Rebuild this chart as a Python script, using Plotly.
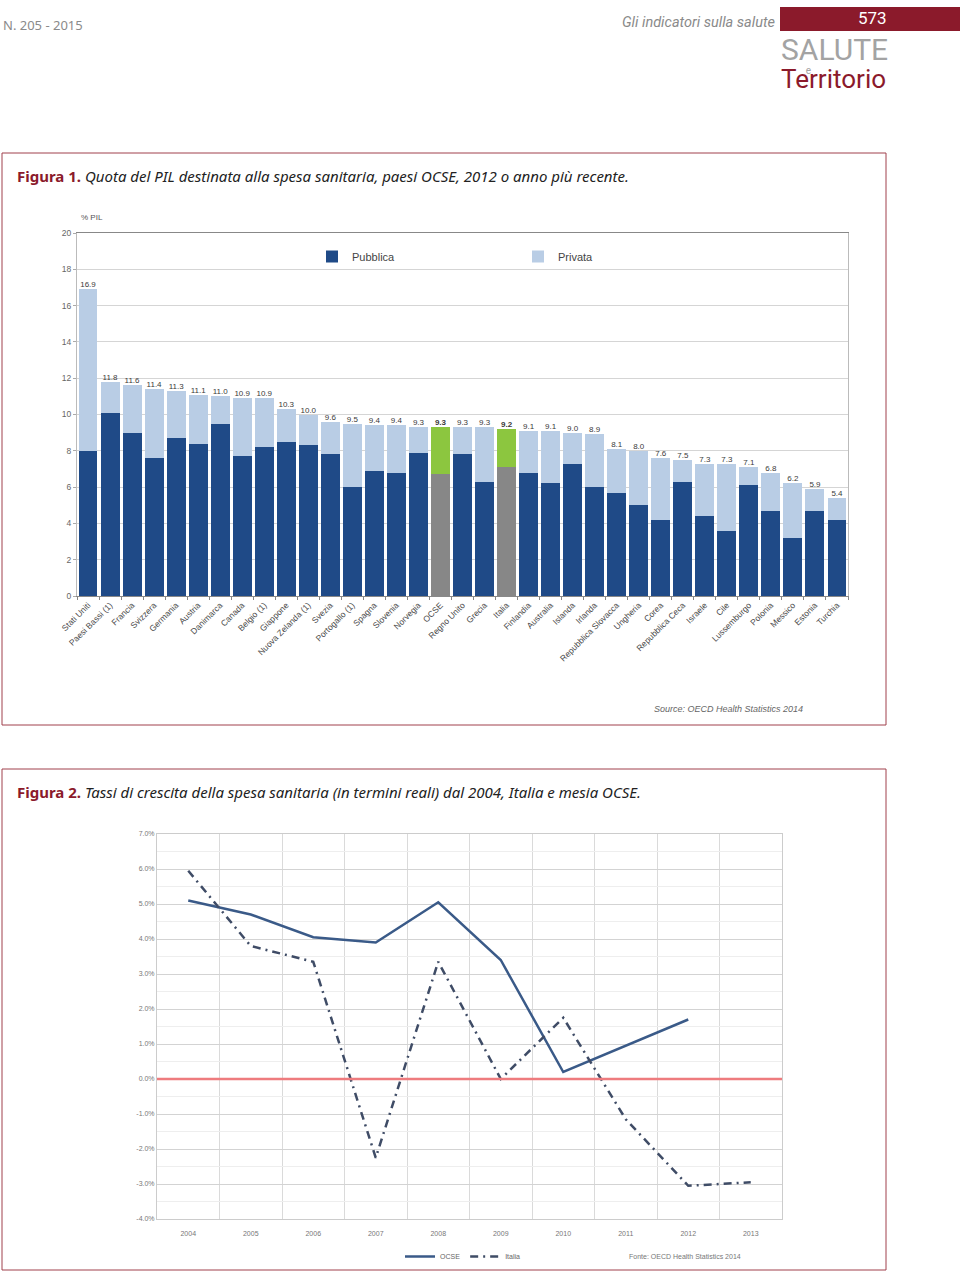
import plotly.graph_objects as go

# ---------------- data: Figure 1 ----------------
countries = ["Stati Uniti", "Paesi Bassi (1)", "Francia", "Svizzera", "Germania", "Austria",
             "Danimarca", "Canada", "Belgio (1)", "Giappone", "Nuova Zelanda (1)", "Svezia",
             "Portogallo (1)", "Spagna", "Slovenia", "Norvegia", "OCSE", "Regno Unito", "Grecia",
             "Italia", "Finlandia", "Australia", "Islanda", "Irlanda", "Repubblica Slovacca",
             "Ungheria", "Corea", "Repubblica Ceca", "Israele", "Cile", "Lussemburgo", "Polonia",
             "Messico", "Estonia", "Turchia"]
public = [8.0, 10.1, 9.0, 7.6, 8.7, 8.4, 9.5, 7.7, 8.2, 8.5, 8.3, 7.8, 6.0, 6.9, 6.8, 7.9,
          6.7, 7.8, 6.3, 7.1, 6.8, 6.2, 7.3, 6.0, 5.7, 5.0, 4.2, 6.3, 4.4, 3.6, 6.1, 4.7,
          3.2, 4.7, 4.2]
private = [8.9, 1.7, 2.6, 3.8, 2.6, 2.7, 1.5, 3.2, 2.7, 1.8, 1.7, 1.8, 3.5, 2.5, 2.6, 1.4,
           2.6, 1.5, 3.0, 2.1, 2.3, 2.9, 1.7, 2.9, 2.4, 3.0, 3.4, 1.2, 2.9, 3.7, 1.0, 2.1,
           3.0, 1.2, 1.2]
total = [16.9, 11.8, 11.6, 11.4, 11.3, 11.1, 11.0, 10.9, 10.9, 10.3, 10.0, 9.6, 9.5, 9.4,
         9.4, 9.3, 9.3, 9.3, 9.3, 9.2, 9.1, 9.1, 9.0, 8.9, 8.1, 8.0, 7.6, 7.5, 7.3, 7.3,
         7.1, 6.8, 6.2, 5.9, 5.4]
highlight = ["OCSE", "Italia"]
bar_ticks = [0, 2, 4, 6, 8, 10, 12, 14, 16, 18, 20]

# ---------------- data: Figure 2 ----------------
years = [2004, 2005, 2006, 2007, 2008, 2009, 2010, 2011, 2012, 2013]
ocse = [5.1, 4.7, 4.05, 3.9, 5.05, 3.4, 0.2, 0.95, 1.7, None]
italia = [5.95, 3.8, 3.35, -2.25, 3.35, 0.0, 1.75, -1.15, -3.05, -2.95]
line_ticks = [-4, -3, -2, -1, 0, 1, 2, 3, 4, 5, 6, 7]

W, H = 960, 1274
def X(px): return px / W
def Y(py): return 1 - py / H

DARK = "#1F4A87"
LIGHT = "#B9CDE5"
GRAY = "#878787"
GREEN = "#8CC63F"
RED = "#8B1A2B"

pub_colors = [GRAY if c in highlight else DARK for c in countries]
pri_colors = [GREEN if c in highlight else LIGHT for c in countries]
labels = [("<b>%.1f</b>" % v) if c in highlight else ("%.1f" % v) for c, v in zip(countries, total)]

fig = go.Figure()
fig.add_trace(go.Bar(x=countries, y=public, name="Pubblica", marker=dict(color=pub_colors, line=dict(width=0)),
                     xaxis="x", yaxis="y", legend="legend", hoverinfo="skip"))
fig.add_trace(go.Bar(x=countries, y=private, name="Privata", marker=dict(color=pri_colors, line=dict(width=0)),
                     xaxis="x", yaxis="y", legend="legend", hoverinfo="skip"))
fig.add_trace(go.Scatter(x=countries, y=total, mode="text", text=labels, textposition="top center",
                         textfont=dict(size=8, color="#3a3a3a", family="Liberation Sans"),
                         showlegend=False, xaxis="x", yaxis="y", hoverinfo="skip", cliponaxis=False))

fig.add_trace(go.Scatter(x=years, y=ocse, name="OCSE", mode="lines",
                         line=dict(color="#3A5A88", width=2.5), xaxis="x2", yaxis="y2", legend="legend2"))
fig.add_trace(go.Scatter(x=years, y=italia, name="Italia", mode="lines",
                         line=dict(color="#3F4C66", width=2.5, dash="8px,5px,2px,5px"),
                         xaxis="x2", yaxis="y2", legend="legend2"))

fig.update_layout(
    width=W, height=H, margin=dict(l=0, r=0, t=0, b=0, autoexpand=False),
    paper_bgcolor="white", plot_bgcolor="white",
    barmode="stack", bargap=0.14,
    font=dict(family="Liberation Sans", color="#555"),
    xaxis=dict(domain=[X(77), X(848)], anchor="y", type="category", range=[-0.5, len(countries) - 0.5],
               tickangle=-45, tickfont=dict(size=8.5, color="#4a4a4a"), automargin=False,
               ticks="outside", tickson="boundaries", ticklen=3, tickcolor="#888",
               showline=True, linecolor="#888", linewidth=1, mirror=True, showgrid=False),
    yaxis=dict(domain=[Y(596), Y(233)], anchor="x", range=[0, 20], tickvals=bar_ticks, automargin=False,
               tickfont=dict(size=8.5, color="#666"), ticks="outside", ticklen=3, tickcolor="#aaa",
               showgrid=True, gridcolor="#D5D5D5", gridwidth=1,
               showline=True, linecolor="#bbb", mirror=True, zeroline=False),
    xaxis2=dict(domain=[X(157), X(782)], anchor="y2", range=[2003.5, 2013.5], automargin=False,
                tickvals=years, tickfont=dict(size=7, color="#777"), ticklabelstandoff=8,
                showgrid=False, zeroline=False, showline=True, linecolor="#ccc", mirror=True,
                minor=dict(tick0=2003.5, dtick=1, showgrid=True, gridcolor="#DADADA", gridwidth=1)),
    yaxis2=dict(domain=[Y(1219), Y(834)], anchor="x2", range=[-4, 7], tickvals=line_ticks, automargin=False,
                ticktext=["%.1f%%" % v for v in line_ticks],
                tickfont=dict(size=7, color="#777"), showgrid=True, gridcolor="#D3D3D3",
                zeroline=False, showline=True, linecolor="#ccc", mirror=True,
                minor=dict(dtick=0.5, tick0=0, showgrid=True, gridcolor="#EEEEEE")),
    legend=dict(orientation="h", x=X(312), y=Y(242), xanchor="left", yanchor="top",
                font=dict(size=11, color="#444"), entrywidth=161, entrywidthmode="pixels",
                itemwidth=30, bgcolor="rgba(0,0,0,0)", traceorder="normal"),
    legend2=dict(orientation="h", x=X(400), y=Y(1242), xanchor="left", yanchor="top",
                 font=dict(size=7, color="#666"), bgcolor="rgba(0,0,0,0)", itemwidth=30),
    showlegend=True,
)

shapes = [
    dict(type="rect", xref="paper", yref="paper", x0=X(780), x1=X(960), y0=Y(31), y1=Y(7),
         fillcolor=RED, line=dict(width=0)),
    dict(type="rect", xref="paper", yref="paper", x0=X(2), x1=X(886), y0=Y(725), y1=Y(153),
         line=dict(color="#A0404C", width=1)),
    dict(type="rect", xref="paper", yref="paper", x0=X(2), x1=X(886), y0=Y(1270), y1=Y(769),
         line=dict(color="#A0404C", width=1)),
    dict(type="line", xref="x2 domain", yref="y2", x0=0, x1=1, y0=0, y1=0,
         line=dict(color="#EE7B7E", width=2.5), layer="above"),
]

logo = ("<span style='font-size:30px;color:#A3A3A3'>SALUTE</span><br>"
        "<span style='font-size:10px;color:#A3A3A3'>" + "&nbsp;" * 10 + "e</span><br>"
        "<span style='font-size:26px;color:%s'>Territorio</span>" % RED)

ann = [
    dict(x=X(1), y=Y(25), text="N. 205 - 2015", font=dict(size=13, color="#8a8a8a", family="Noto Sans")),
    dict(x=X(777), y=Y(22), text="<i>Gli indicatori sulla salute</i>", xanchor="right",
         font=dict(size=14.5, color="#8a8a8a", family="Roboto")),
    dict(x=X(872), y=Y(18), text="573", xanchor="center", font=dict(size=17, color="white", family="Roboto")),
    dict(x=X(779), y=Y(63), text=logo, align="left", font=dict(size=10.8, color="#A3A3A3", family="Roboto")),
    dict(x=X(15), y=Y(176),
         text="<span style='color:%s'><b>Figura 1.</b></span> <i>Quota del PIL destinata alla spesa sanitaria, paesi OCSE, 2012 o anno più recente.</i>" % RED,
         font=dict(size=15, color="#222", family="Noto Sans")),
    dict(x=X(15), y=Y(792),
         text="<span style='color:%s'><b>Figura 2.</b></span> <i>Tassi di crescita della spesa sanitaria (in termini reali) dal 2004, Italia e mesia OCSE.</i>" % RED,
         font=dict(size=15, color="#222", family="Noto Sans")),
    dict(x=X(79), y=Y(217), text="% PIL", font=dict(size=8, color="#555", family="Liberation Sans")),
    dict(x=X(652), y=Y(709), text="<i>Source: OECD Health Statistics 2014</i>",
         font=dict(size=9, color="#666", family="Liberation Sans")),
    dict(x=X(627), y=Y(1256), text="Fonte: OECD Health Statistics 2014",
         font=dict(size=7, color="#777", family="Liberation Sans")),
]
for a in ann:
    a.setdefault("xanchor", "left")
    a.update(xref="paper", yref="paper", yanchor="middle", showarrow=False)

fig.update_layout(shapes=shapes, annotations=ann)
fig.write_html("out.html")
